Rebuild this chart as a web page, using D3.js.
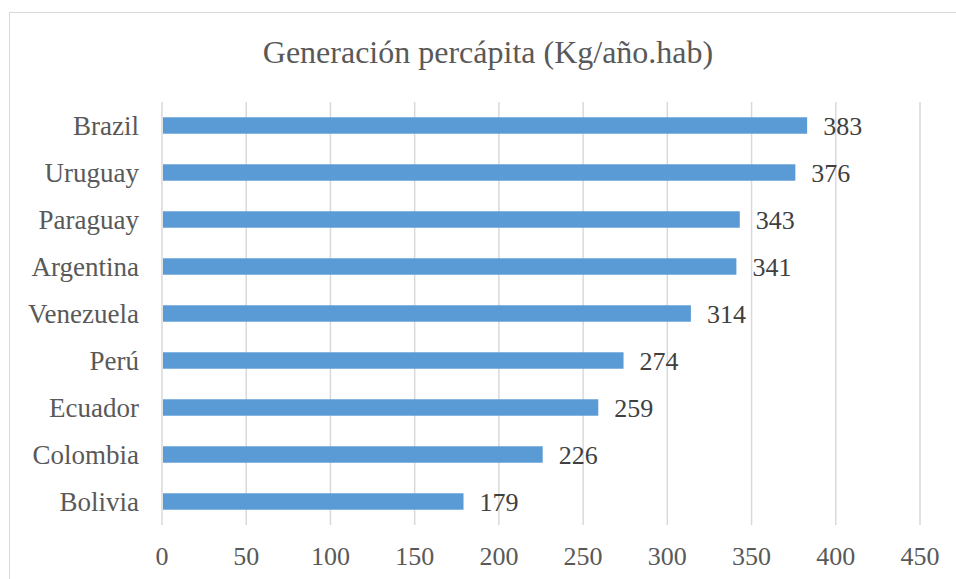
<!DOCTYPE html>
<html>
<head>
<meta charset="utf-8">
<script src="https://cdn.jsdelivr.net/npm/d3@7"></script>
<style>
  body { margin: 0; background: #fff; }
  svg text { font-family: "Liberation Serif", "Times New Roman", serif; fill: #595959; }
</style>
</head>
<body>
<div id="chart"></div>
<script>
var title = 'Generación percápita (Kg/año.hab)';
var countries = ['Brazil', 'Uruguay', 'Paraguay', 'Argentina', 'Venezuela', 'Perú', 'Ecuador', 'Colombia', 'Bolivia'];
var values = [383, 376, 343, 341, 314, 274, 259, 226, 179];
var xTicks = [0, 50, 100, 150, 200, 250, 300, 350, 400, 450];

var width = 956, height = 579;
var margin = {top: 102, right: 36, bottom: 54, left: 162};

var svg = d3.select('#chart').append('svg')
  .attr('width', width)
  .attr('height', height);

// outer chart border (runs off right/bottom edge like the screenshot)
svg.append('rect')
  .attr('x', 9.5).attr('y', 12.5)
  .attr('width', 960).attr('height', 580)
  .attr('fill', '#fff')
  .attr('stroke', '#d9d9d9');

svg.append('text')
  .attr('x', 488).attr('y', 52)
  .attr('dy', '0.35em')
  .attr('text-anchor', 'middle')
  .style('font-size', '32px')
  .text(title);

var x = d3.scaleLinear().domain([0, 450]).range([margin.left, width - margin.right]);
var y = d3.scaleBand().domain(countries)
  .range([margin.top, height - margin.bottom])
  .paddingInner(0.65).paddingOuter(0.325);

// gridlines
svg.append('g').selectAll('line')
  .data(xTicks).enter().append('line')
  .attr('x1', function(d) { return x(d); })
  .attr('x2', function(d) { return x(d); })
  .attr('y1', margin.top)
  .attr('y2', height - margin.bottom)
  .attr('stroke', '#d9d9d9')
  .attr('stroke-width', 1.5);

// bars
svg.append('g').selectAll('rect')
  .data(countries).enter().append('rect')
  .attr('x', x(0) + 1)
  .attr('y', function(d) { return y(d); })
  .attr('width', function(d, i) { return x(values[i]) - x(0) - 1; })
  .attr('height', y.bandwidth())
  .attr('fill', '#5b9bd5');

// value labels
svg.append('g').selectAll('text')
  .data(countries).enter().append('text')
  .attr('x', function(d, i) { return x(values[i]) + 16; })
  .attr('y', function(d) { return y(d) + y.bandwidth() / 2; })
  .attr('dy', '0.35em')
  .style('font-size', '26px')
  .style('fill', '#404040')
  .text(function(d, i) { return values[i]; });

// category labels
svg.append('g').selectAll('text')
  .data(countries).enter().append('text')
  .attr('x', margin.left - 23)
  .attr('y', function(d) { return y(d) + y.bandwidth() / 2; })
  .attr('dy', '0.35em')
  .attr('text-anchor', 'end')
  .style('font-size', '27px')
  .text(function(d) { return d; });

// x tick labels
svg.append('g').selectAll('text')
  .data(xTicks).enter().append('text')
  .attr('x', function(d) { return x(d); })
  .attr('y', 556)
  .attr('dy', '0.35em')
  .attr('text-anchor', 'middle')
  .style('font-size', '26px')
  .text(function(d) { return d; });
</script>
</body>
</html>
